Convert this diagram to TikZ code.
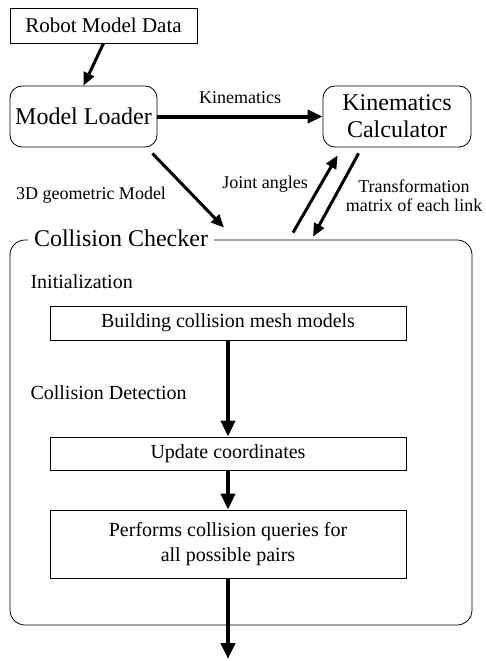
\documentclass[tikz,border=0pt]{standalone}
\usepackage{fontspec}
\setmainfont{Liberation Serif}
\usetikzlibrary{positioning, arrows.meta}

\begin{document}
\begin{tikzpicture}[x=1pt, y=-1pt,
    module/.style={draw, line width=0.8pt, rounded corners=12pt, minimum width=147pt, minimum height=61pt, align=center, font=\fontsize{24}{27}\selectfont},
    box/.style={draw, line width=0.8pt, minimum width=356pt, align=center, font=\fontsize{20}{25}\selectfont},
    flow/.style={line width=4.5pt, -{Triangle[length=16pt, width=14pt]}},
    link/.style={line width=3pt, -{Triangle[length=13pt, width=11pt]}},
    note/.style={font=\fontsize{18}{19}\selectfont, align=center},
    stage/.style={anchor=west, font=\fontsize{20}{24}\selectfont}]

  \useasboundingbox (0,0) rectangle (485,661);

  % Input data and the two modules
  \node[draw, line width=0.8pt, minimum width=187pt, minimum height=35pt, font=\fontsize{21}{24}\selectfont] (data) at (103.5,25.5) {Robot Model Data};
  \node[module] (loader) at (83.5,116.5) {Model Loader};
  \node[module, minimum width=148pt] (kincalc) at (397,116.5) {Kinematics\\Calculator};

  % Collision checker frame and its title
  \node[draw, line width=0.8pt, rounded corners=15pt, minimum width=462pt, minimum height=385pt] (checker) at (241,432.5) {};
  \node[fill=white, inner xsep=6pt, inner ysep=1pt, font=\fontsize{24}{27}\selectfont] (title) at (121,238) {Collision Checker};

  % Stages inside the checker
  \node[stage] (init) at (27,282) {Initialization};
  \node[box, minimum height=34pt] (build) at (228,323) {Building collision mesh models};
  \node[stage] (detect) at (27,393) {Collision Detection};
  \node[box, minimum height=33pt] (update) at (228,453.5) {Update coordinates};
  \node[box, minimum height=68pt] (queries) at (228,544) {Performs collision queries for\\all possible pairs};
  \coordinate (result) at (228,659);

  % Data flow between modules
  \draw[link] (data.south) -- (loader.north);
  \draw[line width=4pt, -{Triangle[length=15pt, width=13pt]}] (loader.east) -- node[note, above=7pt] (kinlabel) {Kinematics} (kincalc.west);

  \coordinate (geo-in) at ([xshift=-17pt, yshift=12pt]checker.north);
  \coordinate (ja-out) at ([xshift=52pt, yshift=7pt]checker.north);
  \coordinate (tm-in) at ([xshift=72pt, yshift=3pt]checker.north);
  \draw[link] ([xshift=-5pt, yshift=-6pt]loader.south east) -- (geo-in);
  \draw[link] (ja-out) -- ([xshift=15pt, yshift=-8pt]kincalc.south west);
  \draw[link] ([xshift=36pt, yshift=-6pt]kincalc.south west) -- (tm-in);

  \node[note] (geolabel) at (91,195) {3D geometric Model};
  \node[note] (jalabel) at (265,184) {Joint angles};
  \node[note] (tmlabel) at (414,196) {Transformation\\matrix of each link};

  % Processing steps
  \draw[flow] (build.south) -- (update.north);
  \draw[flow] (update.south) -- (queries.north);
  \draw[flow] (queries.south) -- (result);
\end{tikzpicture}
\end{document}
